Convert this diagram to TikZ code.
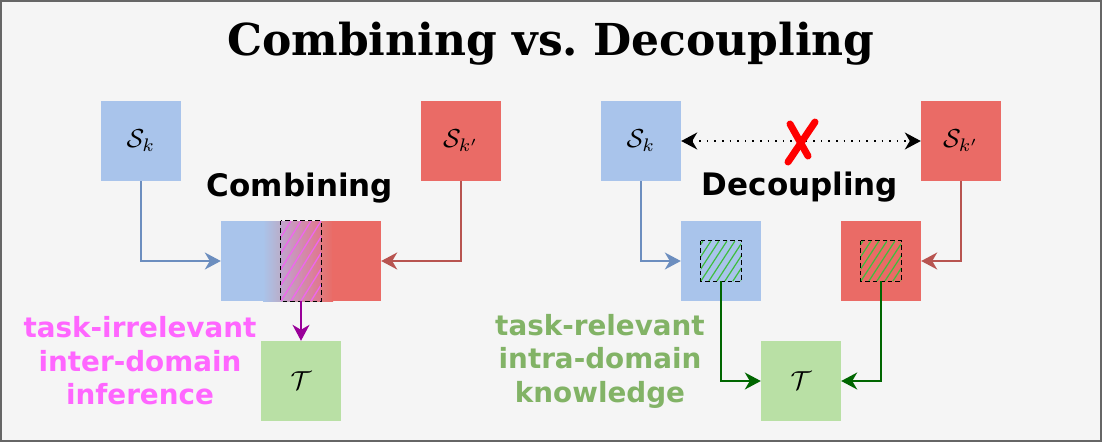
\documentclass[tikz,border=0pt]{standalone}
\usepackage{graphicx}
\usepackage{fontspec}
\newfontfamily\labfont{DejaVu Sans}
\newfontfamily\titlefont{DejaVu Serif}
\usetikzlibrary{arrows.meta,calc}
\definecolor{bgc}{HTML}{F5F5F5}
\definecolor{bordc}{HTML}{666666}
\definecolor{blueF}{HTML}{A9C4EB}
\definecolor{blueL}{HTML}{6C8EBF}
\definecolor{redF}{HTML}{EA6B66}
\definecolor{redL}{HTML}{B85450}
\definecolor{greenF}{HTML}{B9E0A5}
\definecolor{greenL}{HTML}{006600}
\definecolor{greenT}{HTML}{82B366}
\definecolor{pinkT}{HTML}{FF66FF}
\definecolor{purpL}{HTML}{990099}
\definecolor{hatchG}{HTML}{3DBE3D}
\definecolor{hatchP}{HTML}{EE66EE}
\newcommand{\boxmath}[1]{\scalebox{2.6}{$#1$}}
\tikzset{
  myhead/.tip={Stealth[length=16pt,width=17pt,inset=5pt]},
  box/.style={minimum width=80pt, minimum height=80pt, inner sep=0pt, draw=none},
  conn/.style={line width=1.6pt, -myhead},
  lab/.style={font=\labfont\bfseries\fontsize{31}{36}\selectfont},
  note/.style={align=center, font=\labfont\bfseries\fontsize{27.8}{33.5}\selectfont},
}
\begin{document}
\begin{tikzpicture}[x=1pt,y=-1pt]
\useasboundingbox (0,0) rectangle (1102,442);
\draw[fill=bgc, draw=bordc, line width=2pt] (1,1) rectangle (1101,441);

% title
\node[font=\titlefont\bfseries\fontsize{44}{50}\selectfont, anchor=base] (title) at (551,55) {Combining vs.\ Decoupling};

% ---------- left: combining ----------
\node[box, fill=blueF] (sa) at (141,141) {\boxmath{\mathcal{S}_k}};
\node[box, fill=redF] (sb) at (461,141) {\boxmath{\mathcal{S}_{k'}}};
\node[lab, anchor=base] (lcomb) at (300,196) {Combining};

\node[minimum width=160pt, minimum height=80pt, inner sep=0pt] (comb) at (301,261) {};
\fill[blueF] (comb.north west) rectangle (264,301);
\shade[left color=blueF, right color=redF] (263,221) rectangle (333,301);
\fill[redF] (332,221) rectangle (comb.south east);

\node[minimum width=40pt, minimum height=80pt, inner sep=0pt] (hc) at (301,261) {};
\begin{scope}
  \clip (hc.north west) rectangle (hc.south east);
  \fill[hatchP, opacity=0.15] (hc.north west) rectangle (hc.south east);
  \foreach \i in {-8,...,6} {
    \draw[hatchP, line width=1.3pt] (281+\i*10,301) -- ++(50,-80);
  }
\end{scope}
\draw[black, line width=1.3pt, dash pattern=on 4.5pt off 3pt] (hc.north west) rectangle (hc.south east);

\node[box, fill=greenF] (ta) at (301,381) {\boxmath{\mathcal{T}}};

\draw[conn, blueL] (sa.south) |- (comb.west);
\draw[conn, redL] (sb.south) |- (comb.east);
\draw[conn, purpL] (hc.south) -- (ta.north);

\node[note, text=pinkT] (pinknote) at (140,361) {task-irrelevant\\inter-domain\\inference};

% ---------- right: decoupling ----------
\node[box, fill=blueF] (sc) at (641,141) {\boxmath{\mathcal{S}_k}};
\node[box, fill=redF] (sd) at (961,141) {\boxmath{\mathcal{S}_{k'}}};
\node[lab, anchor=base] (ldec) at (800,195) {Decoupling};

\node[box, fill=blueF] (bl) at (721,261) {};
\node[box, fill=redF] (rd) at (881,261) {};
\node[minimum width=40pt, minimum height=40pt, inner sep=0pt] (hb) at (721,261) {};
\node[minimum width=40pt, minimum height=40pt, inner sep=0pt] (hr) at (881,261) {};
\foreach \h in {hb,hr} {
  \begin{scope}
    \clip (\h.north west) rectangle (\h.south east);
    \foreach \i in {-5,...,5} {
      \draw[hatchG, line width=1.2pt] ($(\h.south west)+(\i*8,0)$) -- ++(26,-40);
    }
  \end{scope}
  \draw[black, line width=1.3pt, dash pattern=on 4.5pt off 3pt] (\h.north west) rectangle (\h.south east);
}

\node[box, fill=greenF] (tb) at (801,381) {\boxmath{\mathcal{T}}};

\draw[conn, blueL] (sc.south) |- (bl.west);
\draw[conn, redL] (sd.south) |- (rd.east);
\draw[conn, greenL] (hb.south) |- (tb.west);
\draw[conn, greenL] (hr.south) |- (tb.east);

\draw[line width=1.6pt, dash pattern=on 1.6pt off 6pt, myhead-myhead] (sc.east) -- (sd.west);
\coordinate (xc) at (801,142);
\draw[red, line width=7pt, line cap=round] ($(xc)+(-11,-18)$) .. controls ($(xc)+(-2,-2)$) .. ($(xc)+(7,14)$);
\draw[red, line width=7pt, line cap=round] ($(xc)+(14,-20)$) .. controls ($(xc)+(0,0)$) .. ($(xc)+(-13,20)$);

\node[note, text=greenT] (greennote) at (600,361) {task-relevant\\intra-domain\\knowledge};
\end{tikzpicture}
\end{document}
